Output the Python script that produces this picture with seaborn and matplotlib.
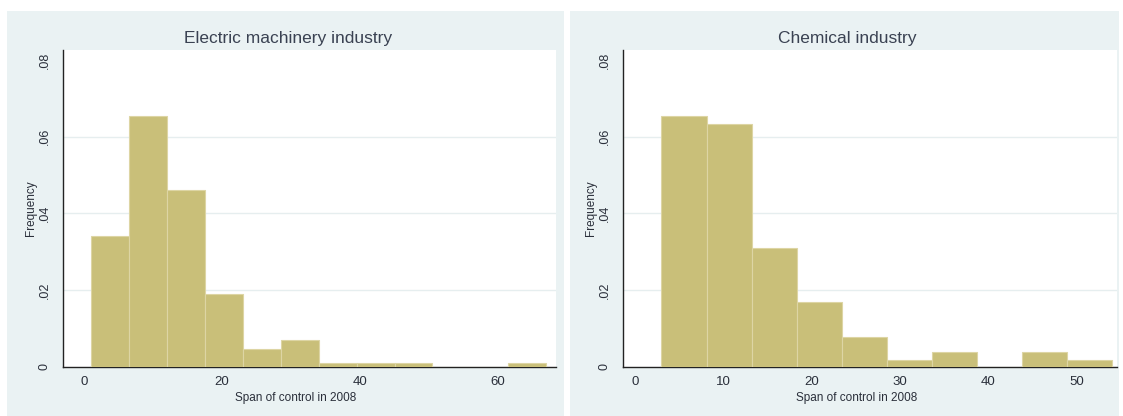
import numpy as np
import pandas as pd
import seaborn as sns
import matplotlib.pyplot as plt
from matplotlib.patches import Rectangle

# bin edges and bar heights
elec_edges = [1, 6.5, 12, 17.5, 23, 28.5, 34, 39.5, 45, 50.5, 56, 61.5, 67]
elec_freq = [0.0342, 0.0655, 0.0461, 0.0190, 0.0048, 0.0070, 0.0011, 0.0011, 0.0011, 0, 0, 0.0011]

chem_edges = [3, 8.1, 13.2, 18.3, 23.4, 28.5, 33.6, 38.7, 43.8, 48.9, 54]
chem_freq = [0.0655, 0.0633, 0.0309, 0.0170, 0.0078, 0.0019, 0.0038, 0, 0.0038, 0.0019]

titles = ["Electric machinery industry", "Chemical industry"]
elec_xticks = [0, 20, 40, 60]
chem_xticks = [0, 10, 20, 30, 40, 50]
yticks = [0, 0.02, 0.04, 0.06, 0.08]
ytick_labels = ["0", ".02", ".04", ".06", ".08"]

sns.set_theme(style="white")
plt.rcParams['font.family'] = ['Liberation Sans', 'DejaVu Sans']

W, H = 1123, 416
fig = plt.figure(figsize=(W / 100, H / 100), dpi=100)
fig.patch.set_facecolor("white")

bg = "#eaf2f3"
bar_col = "#c9bf79"
txt = "#2a2f3a"

# panel backgrounds (px: left, right)
panels = [(7, 564), (570, 1119)]
for x0, x1 in panels:
    fig.add_artist(Rectangle((x0 / W, 0), (x1 - x0) / W, (H - 11) / H,
                             transform=fig.transFigure, facecolor=bg,
                             edgecolor="none", zorder=-10))

# axes placement in px: (left, right, top, bottom)
ax_px = [(63, 556, 50, 367), (623, 1117, 50, 367)]
xlims = [(-3.05, 68.4), (-1.36, 54.6)]
datasets = [(elec_edges, elec_freq, elec_xticks), (chem_edges, chem_freq, chem_xticks)]

for i, ((l, r, t, b), (edges, freq, xt)) in enumerate(zip(ax_px, datasets)):
    ax = fig.add_axes([l / W, (H - b) / H, (r - l) / W, (b - t) / H])
    ax.set_facecolor("white")
    df = pd.DataFrame({"mid": (np.array(edges[:-1]) + np.array(edges[1:])) / 2,
                       "freq": freq})
    sns.histplot(data=df, x="mid", weights="freq", bins=edges, stat="count",
                 color=bar_col, edgecolor="#ddd5a4", linewidth=0.8, alpha=1,
                 ax=ax, zorder=3)
    for g in [0.02, 0.04, 0.06]:
        ax.axhline(g, color="#e6eeef", lw=1.0, zorder=1)
    ax.set_xlim(*xlims[i])
    ax.set_ylim(0, 0.0826)
    ax.set_xticks(xt)
    ax.set_yticks(yticks)
    ax.set_yticklabels(ytick_labels, rotation=90, va="center")
    ax.tick_params(axis="both", which="both", direction="out", length=3.8,
                   width=0.9, color="#222222", labelcolor=txt)
    ax.tick_params(axis="x", labelsize=9.5, pad=3)
    ax.tick_params(axis="y", labelsize=9, pad=5)
    for s in ["top", "right"]:
        ax.spines[s].set_visible(False)
    for s in ["left", "bottom"]:
        ax.spines[s].set_color("#222222")
        ax.spines[s].set_linewidth(1.0)
    ax.set_xlabel("Span of control in 2008", fontsize=8.5, color=txt)
    ax.xaxis.set_label_coords(0.472, -0.078)
    ax.set_ylabel("Frequency", fontsize=8.5, color=txt)
    ax.yaxis.set_label_coords(-0.052, 0.5)
    cx = (panels[i][0] + panels[i][1]) / 2 + 3
    fig.text(cx / W, (H - 38) / H, titles[i], ha="center", va="center",
             fontsize=12.5, color="#3a4252")

fig.savefig("out.png", dpi=100)
